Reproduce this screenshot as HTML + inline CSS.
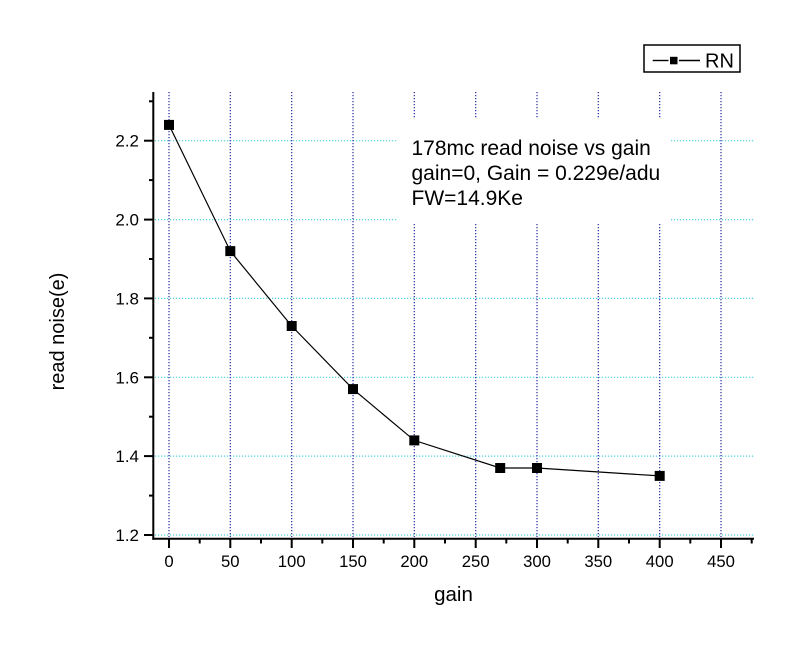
<!DOCTYPE html>
<html>
<head>
<meta charset="utf-8">
<style>
html,body{margin:0;padding:0;background:#fff;}
svg{display:block;}
text{font-family:"Liberation Sans",Arial,sans-serif;fill:#000;}
</style>
</head>
<body>
<svg width="800" height="651" viewBox="0 0 800 651" xmlns="http://www.w3.org/2000/svg">
<rect x="0" y="0" width="800" height="651" fill="#fff"/>

<!-- horizontal grid (cyan dotted) -->
<g stroke="#4fd2dc" stroke-width="1.2" stroke-dasharray="1.2,1.8">
  <line x1="155" y1="535" x2="754" y2="535"/>
  <line x1="155" y1="456.1" x2="754" y2="456.1"/>
  <line x1="155" y1="377.3" x2="754" y2="377.3"/>
  <line x1="155" y1="298.4" x2="754" y2="298.4"/>
  <line x1="155" y1="219.6" x2="754" y2="219.6"/>
  <line x1="155" y1="140.7" x2="754" y2="140.7"/>
</g>

<!-- vertical grid (navy dotted) -->
<g stroke="#2a2aa2" stroke-width="1.2" stroke-dasharray="1.2,1.8">
  <line x1="169" y1="92" x2="169" y2="537"/>
  <line x1="230.3" y1="92" x2="230.3" y2="537"/>
  <line x1="291.7" y1="92" x2="291.7" y2="537"/>
  <line x1="353" y1="92" x2="353" y2="537"/>
  <line x1="414.3" y1="92" x2="414.3" y2="537"/>
  <line x1="475.7" y1="92" x2="475.7" y2="537"/>
  <line x1="537" y1="92" x2="537" y2="537"/>
  <line x1="598.3" y1="92" x2="598.3" y2="537"/>
  <line x1="659.7" y1="92" x2="659.7" y2="537"/>
  <line x1="721" y1="92" x2="721" y2="537"/>
</g>

<!-- text box background -->
<rect x="398" y="119" width="272" height="105" fill="#fff"/>
<text x="411.5" y="155" font-size="21">178mc read noise vs gain</text>
<text x="411.5" y="180" font-size="21">gain=0, Gain = 0.229e/adu</text>
<text x="411.5" y="205" font-size="21">FW=14.9Ke</text>

<!-- data line -->
<polyline fill="none" stroke="#000" stroke-width="1.2"
  points="169,124.9 230.3,251.1 291.7,326 353,389.1 414.3,440.4 500.2,468 537,468 659.7,475.9"/>
<g fill="#000">
  <rect x="164" y="119.9" width="10" height="10"/>
  <rect x="225.3" y="246.1" width="10" height="10"/>
  <rect x="286.7" y="321" width="10" height="10"/>
  <rect x="348" y="384.1" width="10" height="10"/>
  <rect x="409.3" y="435.4" width="10" height="10"/>
  <rect x="495.2" y="463" width="10" height="10"/>
  <rect x="532" y="463" width="10" height="10"/>
  <rect x="654.7" y="470.9" width="10" height="10"/>
</g>

<!-- axes -->
<g stroke="#000" stroke-width="2" fill="none">
  <line x1="153.3" y1="92" x2="153.3" y2="539.7"/>
  <line x1="152.3" y1="538.7" x2="754" y2="538.7"/>
  <line x1="144" y1="535" x2="153" y2="535"/>
  <line x1="144" y1="456.1" x2="153" y2="456.1"/>
  <line x1="144" y1="377.3" x2="153" y2="377.3"/>
  <line x1="144" y1="298.4" x2="153" y2="298.4"/>
  <line x1="144" y1="219.6" x2="153" y2="219.6"/>
  <line x1="144" y1="140.7" x2="153" y2="140.7"/>
  <line x1="149" y1="495.6" x2="153" y2="495.6"/>
  <line x1="149" y1="416.7" x2="153" y2="416.7"/>
  <line x1="149" y1="337.8" x2="153" y2="337.8"/>
  <line x1="149" y1="259" x2="153" y2="259"/>
  <line x1="149" y1="180.1" x2="153" y2="180.1"/>
  <line x1="149" y1="101.3" x2="153" y2="101.3"/>
  <line x1="169" y1="539" x2="169" y2="548"/>
  <line x1="230.3" y1="539" x2="230.3" y2="548"/>
  <line x1="291.7" y1="539" x2="291.7" y2="548"/>
  <line x1="353" y1="539" x2="353" y2="548"/>
  <line x1="414.3" y1="539" x2="414.3" y2="548"/>
  <line x1="475.7" y1="539" x2="475.7" y2="548"/>
  <line x1="537" y1="539" x2="537" y2="548"/>
  <line x1="598.3" y1="539" x2="598.3" y2="548"/>
  <line x1="659.7" y1="539" x2="659.7" y2="548"/>
  <line x1="721" y1="539" x2="721" y2="548"/>
  <line x1="199.7" y1="539" x2="199.7" y2="543.5"/>
  <line x1="261" y1="539" x2="261" y2="543.5"/>
  <line x1="322.3" y1="539" x2="322.3" y2="543.5"/>
  <line x1="383.7" y1="539" x2="383.7" y2="543.5"/>
  <line x1="445" y1="539" x2="445" y2="543.5"/>
  <line x1="506.3" y1="539" x2="506.3" y2="543.5"/>
  <line x1="567.7" y1="539" x2="567.7" y2="543.5"/>
  <line x1="629" y1="539" x2="629" y2="543.5"/>
  <line x1="690.3" y1="539" x2="690.3" y2="543.5"/>
  <line x1="751.7" y1="539" x2="751.7" y2="543.5"/>
</g>

<!-- y tick labels -->
<g font-size="17" text-anchor="end">
  <text x="139" y="541">1.2</text>
  <text x="139" y="462.1">1.4</text>
  <text x="139" y="383.3">1.6</text>
  <text x="139" y="304.4">1.8</text>
  <text x="139" y="225.6">2.0</text>
  <text x="139" y="146.7">2.2</text>
</g>

<!-- x tick labels -->
<g font-size="16.7" text-anchor="middle">
  <text x="169" y="567">0</text>
  <text x="230.3" y="567">50</text>
  <text x="291.7" y="567">100</text>
  <text x="353" y="567">150</text>
  <text x="414.3" y="567">200</text>
  <text x="475.7" y="567">250</text>
  <text x="537" y="567">300</text>
  <text x="598.3" y="567">350</text>
  <text x="659.7" y="567">400</text>
  <text x="721" y="567">450</text>
</g>

<!-- axis titles -->
<text x="453.5" y="601" font-size="20.5" text-anchor="middle">gain</text>
<text transform="translate(64,331.5) rotate(-90)" font-size="20" text-anchor="middle">read noise(e)</text>

<!-- legend -->
<rect x="644" y="45" width="96" height="27" fill="#fff" stroke="#000" stroke-width="1.5"/>
<line x1="652.7" y1="60.5" x2="668.5" y2="60.5" stroke="#000" stroke-width="1.4"/>
<line x1="679" y1="60.5" x2="700" y2="60.5" stroke="#000" stroke-width="1.4"/>
<rect x="670" y="56.8" width="7.5" height="7.5" fill="#000"/>
<text x="705" y="67.3" font-size="20">RN</text>
</svg>
</body>
</html>
